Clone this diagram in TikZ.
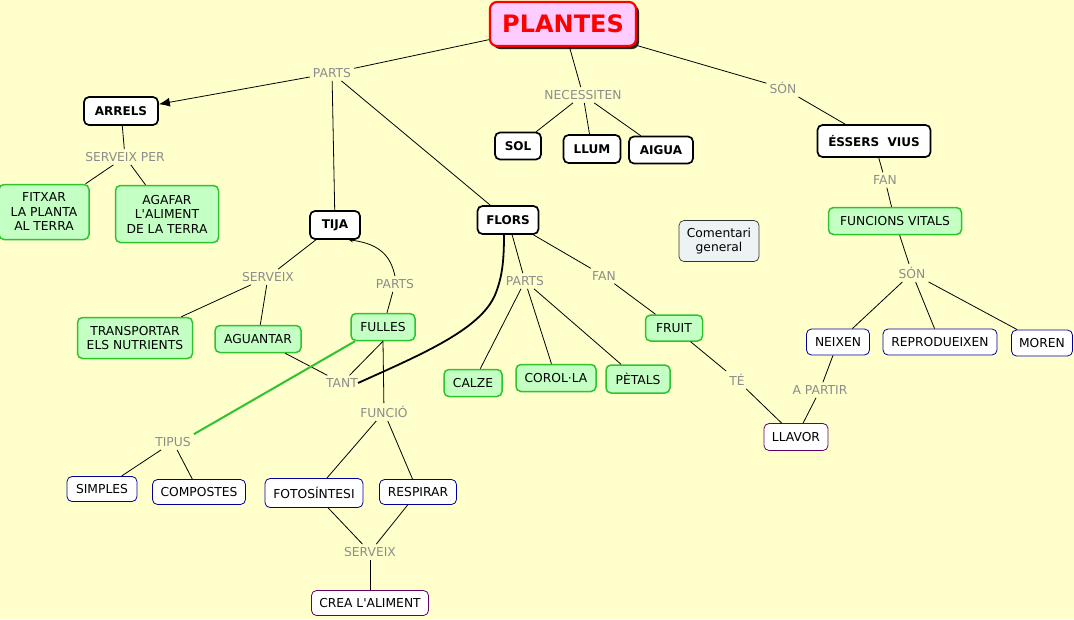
\documentclass[tikz,border=0pt]{standalone}
\usepackage{fontspec}
\setmainfont{DejaVu Sans}
\usetikzlibrary{arrows.meta,shadows}
\definecolor{bgc}{HTML}{FFFFCC}
\definecolor{grnfill}{HTML}{C4FFC4}
\definecolor{grnline}{HTML}{2DC42D}
\definecolor{pinkfill}{HTML}{FFCCFF}
\definecolor{lblgray}{HTML}{8C8C8C}
\definecolor{bluline}{HTML}{000099}
\definecolor{purline}{HTML}{660066}
\definecolor{comfill}{HTML}{EDF2F5}
\newcommand{\aps}{\textquotesingle}
\begin{document}
\begin{tikzpicture}[x=1pt,y=-1pt,
  base/.style={rounded corners=5pt, align=center, inner sep=0pt, font=\fontsize{12.3}{14.5}\selectfont},
  blk/.style={base, draw=black, line width=1.7pt, fill=white, font=\bfseries\fontsize{12}{14.5}\selectfont},
  grn/.style={base, draw=grnline, line width=1.5pt, fill=grnfill},
  blu/.style={base, draw=bluline, line width=0.8pt, fill=white},
  pur/.style={base, draw=purline, line width=0.8pt, fill=white},
  com/.style={base, draw=black!80, line width=0.7pt, fill=comfill},
  lbl/.style={font=\fontsize{12.3}{14.5}\selectfont, text=lblgray, inner sep=3pt},
  sz/.style 2 args={minimum width=#1, minimum height=#2},
  conn/.style={draw=black, line width=0.8pt}
]
\useasboundingbox (0,0) rectangle (1074,619);
\fill[bgc] (0,0) rectangle (1074,619);

% nodes
\node[base, draw=red, line width=2.2pt, fill=pinkfill, sz={146}{44}, rounded corners=7pt,
      drop shadow={shadow xshift=3pt, shadow yshift=-3pt, fill=black, opacity=0.85},
      font=\bfseries\fontsize{24}{28}\selectfont, text=red] (plantes) at (563,24) {PLANTES};
\node[lbl] (parts1) at (332,73) {PARTS};
\node[blk, sz={74}{28}] (arrels) at (121,111) {ARRELS};
\node[lbl] (servper) at (125,157) {SERVEIX PER};
\node[grn, sz={90}{55}] (fitxar) at (44,212) {FITXAR\\LA PLANTA\\AL TERRA};
\node[grn, sz={103}{57}] (agafar) at (167,214) {AGAFAR\\L\aps ALIMENT\\DE LA TERRA};
\node[blk, sz={50}{28}] (tija) at (335,225) {TIJA};
\node[blk, sz={61}{28}] (flors) at (508,220) {FLORS};
\node[lbl] (necess) at (583,95) {NECESSITEN};
\node[blk, sz={46}{27}] (sol) at (518,146) {SOL};
\node[blk, sz={57}{28}] (llum) at (592,149) {LLUM};
\node[blk, sz={64}{27}] (aigua) at (661,150) {AIGUA};
\node[lbl] (son1) at (783,88) {SÓN};
\node[blk, sz={113}{32}] (essers) at (874,141) {ÉSSERS\ \ VIUS};
\node[lbl] (fan1) at (885,180) {FAN};
\node[grn, sz={133}{27}] (funcions) at (895,221) {FUNCIONS VITALS};
\node[lbl] (son2) at (912,273) {SÓN};
\node[blu, sz={63}{26}] (neixen) at (838,342) {NEIXEN};
\node[blu, sz={114}{26}] (reprod) at (940,342) {REPRODUEIXEN};
\node[blu, sz={61}{26}] (moren) at (1042,343) {MOREN};
\node[lbl] (apartir) at (820,390) {A PARTIR};
\node[pur, sz={64}{27}] (llavor) at (796,437) {LLAVOR};
\node[lbl] (te) at (737,380) {TÉ};
\node[grn, sz={57}{26}] (fruit) at (674,328) {FRUIT};
\node[lbl] (fan2) at (604,276) {FAN};
\node[lbl] (parts3) at (525,281) {PARTS};
\node[grn, sz={58}{27}] (calze) at (473,383) {CALZE};
\node[grn, sz={80}{27}] (corol) at (556,378) {COROL·LA};
\node[grn, sz={64}{28}] (petals) at (638,379) {PÈTALS};
\node[com, sz={80}{41}] (coment) at (719,241) {Comentari\\general};
\node[lbl] (serv1) at (268,277) {SERVEIX};
\node[lbl] (parts2) at (395,284) {PARTS};
\node[grn, sz={115}{41}] (transp) at (135,338) {TRANSPORTAR\\ELS NUTRIENTS};
\node[grn, sz={86}{27}] (aguantar) at (258,339) {AGUANTAR};
\node[grn, sz={64}{27}] (fulles) at (383,327) {FULLES};
\node[lbl] (tant) at (342,383) {TANT};
\node[lbl] (funcio) at (384,412) {FUNCIÓ};
\node[lbl] (tipus) at (173,442) {TIPUS};
\node[blu, sz={70}{25}] (simples) at (102,489) {SIMPLES};
\node[blu, sz={93}{25}] (compostes) at (199,492) {COMPOSTES};
\node[blu, sz={98}{29}] (foto) at (314,493) {FOTOSÍNTESI};
\node[blu, sz={77}{25}] (respirar) at (418,492) {RESPIRAR};
\node[lbl] (serv2) at (370,552) {SERVEIX};
\node[pur, sz={117}{25}] (crea) at (370,603) {CREA L\aps ALIMENT};

% connectors
\begin{scope}[conn]
\draw (plantes) -- (parts1);
\draw[-{Latex[length=11pt,width=9pt]}] (parts1) -- (arrels);
\draw (parts1) -- (tija);
\draw (parts1) -- (flors);
\draw (arrels) -- (servper);
\draw (servper) -- (fitxar);
\draw (servper) -- (agafar);
\draw (plantes) -- (necess);
\draw (necess) -- (sol);
\draw (necess) -- (llum);
\draw (necess) -- (aigua);
\draw (plantes) -- (son1);
\draw (son1) -- (essers);
\draw (essers) -- (fan1);
\draw (fan1) -- (funcions);
\draw (funcions) -- (son2);
\draw (son2) -- (neixen);
\draw (son2) -- (reprod);
\draw (son2) -- (moren);
\draw (neixen) -- (apartir);
\draw (apartir) -- (llavor);
\draw (flors) -- (fan2);
\draw (fan2) -- (fruit);
\draw (fruit) -- (te);
\draw (te) -- (llavor);
\draw (flors) -- (parts3);
\draw (parts3) -- (calze);
\draw (parts3) -- (corol);
\draw (parts3) -- (petals);
\draw (tija) -- (serv1);
\draw (serv1) -- (transp);
\draw (serv1) -- (aguantar);
\draw[-{Stealth[length=4pt,width=4pt]}] (parts2.north) .. controls (391,258) and (382,244) .. ([xshift=14pt]tija.south);
\draw (parts2) -- (fulles);
\draw (aguantar) -- (tant);
\draw (fulles.south) -- (tant);
\draw (fulles.south) -- (funcio);
\draw (funcio) -- (foto);
\draw (funcio) -- (respirar);
\draw (foto) -- (serv2);
\draw (respirar) -- (serv2);
\draw (serv2) -- (crea);
\draw (tipus) -- (simples);
\draw (tipus) -- (compostes);
\end{scope}
\draw[grnline, line width=2pt] ([xshift=-28pt]fulles.south) -- (tipus.north east);
\draw[black, line width=1.8pt] ([xshift=-3pt]tant.east) .. controls (420,355) and (480,330) .. (495,295)
      .. controls (502,278) and (504,262) .. ([xshift=-4pt]flors.south);
\end{tikzpicture}
\end{document}
